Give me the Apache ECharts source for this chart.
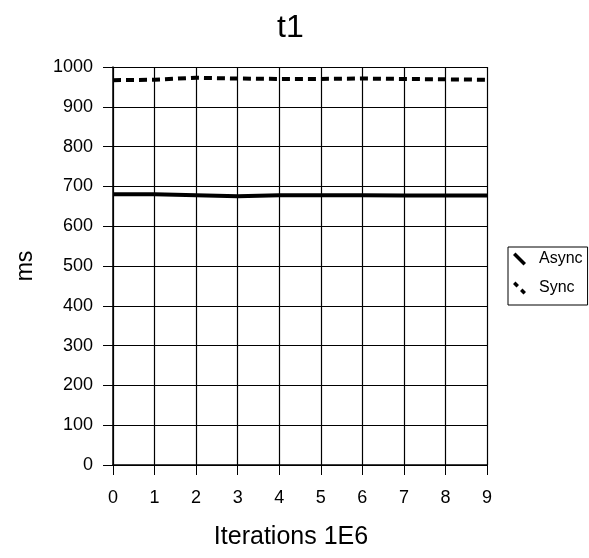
<!DOCTYPE html>
<html>
<head>
<meta charset="utf-8">
<script src="https://cdn.jsdelivr.net/npm/echarts@6/dist/echarts.min.js"></script>
<style>
  html, body { margin: 0; padding: 0; background: #fff; }
  #main { width: 589px; height: 558px; }
</style>
</head>
<body>
<div id="main"></div>
<script>
const iterations = ['0', '1', '2', '3', '4', '5', '6', '7', '8', '9'];
const asyncMs = [680, 680, 678, 675, 678, 678, 678, 677, 677, 677];
const syncMs = [967, 968, 973, 971, 970, 970, 971, 970, 969, 968];

const chart = echarts.init(document.getElementById('main'));
const font = 'Liberation Sans, Arial, sans-serif';

option = {
    animation: false,
    backgroundColor: '#fff',
    textStyle: { fontFamily: font },
    title: {
        text: 't1',
        left: 277,
        top: 12,
        padding: 0,
        textStyle: { fontSize: 32, fontWeight: 'normal', color: '#000', fontFamily: font }
    },
    legend: {
        orient: 'vertical',
        left: 508,
        top: 247,
        padding: [4, 5, 9, 5],
        itemGap: 13,
        itemWidth: 13,
        itemHeight: 13,
        borderColor: '#000',
        borderWidth: 1,
        textStyle: { fontSize: 16, color: '#000', fontFamily: font, padding: [0, 0, 0, 8] },
        data: [
            { name: 'Async', icon: 'path://M0,2.5 L2.5,0 L13,10.5 L10.5,13 Z' },
            { name: 'Sync', icon: 'path://M0,2.5 L2.5,0 L6,3.5 L3.5,6 Z M7,9.5 L9.5,7 L13,10.5 L10.5,13 Z' }
        ]
    },
    grid: { left: 113, right: 102, top: 67, bottom: 93 },
    xAxis: {
        type: 'category',
        data: iterations,
        boundaryGap: false,
        name: 'Iterations 1E6',
        nameLocation: 'middle',
        nameGap: 60,
        nameTextStyle: { fontSize: 25, color: '#000', fontFamily: font, padding: [0, 18, 0, 0] },
        axisLine: { lineStyle: { color: '#000', width: 1.5 } },
        axisTick: { show: true, length: 10, lineStyle: { color: '#000' } },
        axisLabel: { fontSize: 18, color: '#000', margin: 24, fontFamily: font },
        splitLine: { show: true, lineStyle: { color: '#000', width: 1.2 } }
    },
    yAxis: {
        type: 'value',
        min: 0,
        max: 1000,
        interval: 100,
        name: 'ms',
        nameLocation: 'middle',
        nameGap: 76,
        nameRotate: 90,
        nameTextStyle: { fontSize: 23, color: '#000', fontFamily: font },
        axisLine: { show: true, lineStyle: { color: '#000', width: 1.5 } },
        axisTick: { show: true, length: 10, lineStyle: { color: '#000' } },
        axisLabel: { fontSize: 18, color: '#000', margin: 20, fontFamily: font, formatter: (v) => String(v) },
        splitLine: { show: true, lineStyle: { color: '#000', width: 1.2 } }
    },
    series: [
        {
            name: 'Async',
            type: 'line',
            data: asyncMs,
            symbol: 'none',
            itemStyle: { color: '#000' },
            lineStyle: { color: '#000', width: 4 }
        },
        {
            name: 'Sync',
            type: 'line',
            data: syncMs,
            symbol: 'none',
            itemStyle: { color: '#000' },
            lineStyle: { color: '#000', width: 4, type: [8, 5] }
        }
    ]
};

chart.setOption(option);
</script>
</body>
</html>
